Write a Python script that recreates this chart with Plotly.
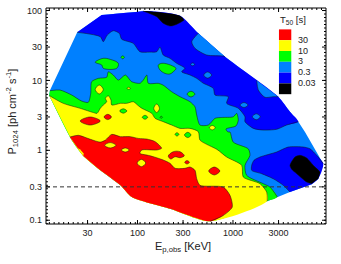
import math
import plotly.graph_objects as go

# ---------- axis ticks ----------
X_TICKS = [30, 100, 300, 1000, 3000]
Y_TICKS = [0.1, 0.3, 1, 3, 10, 30, 100]

# ---------- outer envelope of the sample (E_peak keV, P1024) ----------
HULL_E = [12.1, 23.4, 42.2, 101, 126, 279, 433, 825, 2980, 3952, 4830, 5675, 8820, 7820, 6670,
          3952, 2254, 574, 219, 87, 66.3, 40.8, 27.1, 20.5, 11.9]
HULL_P = [7.2, 48.8, 86.2, 96.1, 98.4, 84.2, 47.2, 21.8, 5.85, 3.57, 2.57, 1.83, 0.643, 0.392, 0.326,
          0.253, 0.186, 0.0964, 0.146, 0.215, 0.316, 0.517, 0.829, 1.39, 6.08]

# ---------- T50 = 0.03-0.3 s, upper region: contour, then envelope back ----------
BLUE_E = [23.4, 40.8, 43.8, 48.3, 55.8, 64.5, 68.3, 90.4, 106, 135, 159, 172, 186, 219, 257, 314, 290,
          355, 417, 485, 622, 648, 893, 859, 1137, 1335, 1335, 1632, 2062, 2868, 3650, 4830]
BLUE_P = [48.8, 42.2, 35.8, 44.6, 51.4, 47.2, 38.9, 33.9, 25.7, 25.4, 25.7, 30, 23.1, 20.7, 17.6, 14.9, 13.3,
          11.95, 10.7, 9.18, 7.7, 6.18, 5.85, 4.7, 3.99, 3.02, 2.57, 2.06, 1.95, 2.0, 2.3, 2.57]
BLUE_CLOSE_E = [3952, 2980, 825, 433, 279, 126, 101, 42.2]
BLUE_CLOSE_P = [3.57, 5.85, 21.8, 47.2, 84.2, 98.4, 96.1, 86.2]

# lower right 0.03-0.3 s region
BLUE2_E = [3952, 3363, 2642, 1998, 1570, 1570, 1659, 1918, 2868, 3794, 5447, 6403, 7522, 8820]
BLUE2_P = [0.253, 0.316, 0.392, 0.463, 0.517, 0.61, 0.72, 0.802, 0.946, 1.115, 1.115, 1.05, 0.848, 0.643]
BLUE2_CLOSE_E = [7820, 6670]
BLUE2_CLOSE_P = [0.392, 0.326]

# ---------- T50 < 0.03 s ----------
BLACK1_E = [114, 159, 186, 219, 247, 290, 307]
BLACK1_P = [98.4, 81.5, 65.6, 60, 62, 69.2, 73.1]
BLACK1_CLOSE_E = [279, 126]
BLACK1_CLOSE_P = [84.2, 98.4]
BLACK2_E = [6670, 5910, 4645, 4118, 3952, 4459, 5031, 5910, 6930, 8147]
BLACK2_P = [0.333, 0.352, 0.463, 0.535, 0.61, 0.802, 0.848, 0.776, 0.61, 0.489]
BLACK2_CLOSE_E = [7820]
BLACK2_CLOSE_P = [0.392]

# ---------- 0.3-3 s patches touching the envelope ----------
LB1_E = [433, 370, 400, 530, 791, 825]
LB1_P = [47.2, 35.8, 28.8, 23.1, 22.3, 21.8]
LB2_E = [1771, 1840, 2163, 2642, 2980]
LB2_P = [9.97, 7.29, 5.73, 5.85, 5.85]

# ---------- T50 = 3-10 s upper contour + envelope back ----------
GREEN_E = [12.1, 15.4, 20.5, 26.0, 30.5, 32.4, 33.1, 38.9, 47.6, 49.5, 55.8, 63, 74.7, 87, 106, 115, 125, 130,
           165, 185, 228, 279, 355, 400, 417, 451, 551, 648, 761, 1007, 1093, 1137, 1075, 845, 886, 931, 1007,
           1446, 1507, 1335, 1391, 2076, 2440, 2910]
GREEN_P = [7.12, 7.29, 6.18, 5.07, 4.86, 6.54, 9.58, 10.7, 11.1, 13.3, 11.95, 10.1, 11.95, 9.58, 9.09, 10.1, 11.95, 9.09,
           9.09, 8.6, 6.89, 5.85, 4.96, 4.2, 3.2, 2.3, 2.3, 2.87, 2.95, 3.02, 3.38, 2.71, 2.23, 2.02, 1.83, 1.83, 1.31,
           1.05, 0.848, 0.61, 0.439, 0.333, 0.298, 0.215]
GREEN_CLOSE_E = [2287, 574, 219, 87, 66.3, 40.8, 27.1, 20.5, 11.9]
GREEN_CLOSE_P = [0.188, 0.0964, 0.146, 0.215, 0.316, 0.517, 0.829, 1.39, 6.08]

GREEN_BLOB1_E = [36.1, 43.8, 51.9, 63, 60.6, 43.8, 42.2, 36.1]
GREEN_BLOB1_P = [18.2, 20.7, 20, 17.6, 14.9, 14.9, 16.6, 18.2]
GREEN_BLOB2_E = [165, 186, 253, 237, 219, 194, 172, 165]
GREEN_BLOB2_P = [16.6, 17.6, 14.9, 13.3, 12.35, 12.6, 14.1, 16.6]

# ---------- T50 = 10-30 s upper contour + envelope back ----------
YELLOW_E = [11.9, 16.7, 25.1, 34.5, 37.7, 40.8, 43.8, 47.6, 46.1, 49.5, 52.8, 53.7, 66.3, 77.1, 90.4, 102, 111, 141,
            153, 186, 228, 279, 355, 433, 451, 530, 680, 859, 1233, 1282, 1918, 2254, 2287]
YELLOW_P = [6.08, 4.7, 3.99, 3.47, 3.38, 3.99, 4.45, 4.96, 5.55, 6.04, 5.24, 4.45, 4.7, 4.7, 4.96, 4.35, 3.99, 3.38,
            2.87, 2.57, 2.3, 2.06, 2.06, 1.85, 1.4, 1.22, 1.03, 0.802, 0.61, 0.415, 0.333, 0.253, 0.188]
YELLOW_CLOSE_E = [574, 219, 87, 66.3, 40.8, 27.1, 20.5]
YELLOW_CLOSE_P = [0.0964, 0.146, 0.215, 0.316, 0.517, 0.829, 1.39]

# ---------- T50 > 30 s upper contour + envelope back ----------
RED_E = [19.6, 24, 32, 40.8, 46.1, 53.7, 66.3, 83.5, 102, 125, 153, 179, 159, 111, 106, 135, 186, 219, 247, 314,
         355, 400, 417, 451, 791, 930, 983, 791, 574]
RED_P = [1.55, 1.64, 1.44, 1.31, 1.4, 1.69, 1.57, 1.57, 1.48, 1.45, 1.33, 1.07, 1.01, 1.01, 0.906, 0.837, 0.727, 0.652,
         0.553, 0.553, 0.577, 0.517, 0.392, 0.316, 0.298, 0.227, 0.154, 0.117, 0.0964]
RED_CLOSE_E = [219, 87, 66.3, 40.8, 27.1]
RED_CLOSE_P = [0.146, 0.215, 0.316, 0.517, 0.829]

RED_BLOB_E = [210, 237, 279, 309, 279, 247, 223, 210]
RED_BLOB_P = [0.829, 0.955, 0.955, 0.837, 0.784, 0.81, 0.751, 0.829]
YELLOW_SLIVER_E = [23.5, 25.1, 27.3, 27.1]
YELLOW_SLIVER_P = [1.08, 1.03, 0.9, 0.829]

# ---------- small closed islands: (E left, E mid, E right), (P low, P high) ----------
ISLES_LIGHTBLUE = [((360, 378, 397), (16.2, 17.8)), ((493, 543, 598), (10.8, 13.2)),
                   ((1184, 1304, 1436), (4.1, 4.83)), ((1593, 1754, 1931), (2.74, 3.33))]
ISLES_BLUE = [((127, 146, 169), (7.2, 8.8))]
ISLES_GREEN_HIGH = [((67, 70, 73), (20.4, 22.5)), ((330, 363, 400), (5.8, 7.0))]
ISLES_YELLOW = [((36.1, 39.8, 43.8), (6.4, 8.6)), ((77.5, 80.9, 84.4), (7.45, 7.97)),
                ((148, 159, 170), (3.46, 4.6)), ((565, 607, 652), (1.96, 2.27))]
ISLES_GREEN_LOW = [((65, 71, 77.5), (3.4, 3.93)), ((112, 120, 128), (2.78, 3.17)),
                   ((172, 177.5, 183), (2.87, 3.07)), ((247, 259, 272), (1.6, 1.79)),
                   ((310, 336, 364), (1.52, 1.81))]
ISLES_RED = [((25.1, 32, 40.8), (2.3, 3.0)), ((44.6, 48.8, 53.4), (2.75, 3.27)),
             ((312, 330, 350), (0.637, 0.713)), ((556, 637, 729), (0.444, 0.577))]
ISLES_YELLOW_LOW = [((45.2, 51.9, 59.5), (1.08, 1.29)), ((67.7, 74.5, 82), (0.946, 1.08)),
                    ((99, 110, 122), (0.584, 0.742))]

# ---------- legend ----------
LEGEND_LABELS = ["30", "10", "3", "0.3", "0.03"]
RED, YELLOW, GREEN, LIGHTBLUE, BLUE, BLACK = "#ff0000", "#ffff00", "#00ff00", "#0080ff", "#0000ff", "#000000"
LEGEND_COLORS = [RED, YELLOW, GREEN, LIGHTBLUE, BLUE, BLACK]
THRESHOLD = 0.3

FONT = "Liberation Sans"
INK = "#222222"
fig = go.Figure()


def region(e, p, close_e, close_p, color):
    """Fill contour + envelope part, then stroke the contour only (smooth contours)."""
    fig.add_trace(go.Scatter(x=e + close_e, y=p + close_p, mode="lines", fill="toself", fillcolor=color,
                             line=dict(width=0, shape="spline", smoothing=0.7, color=color),
                             hoverinfo="skip", showlegend=False))
    fig.add_trace(go.Scatter(x=e, y=p, mode="lines", line=dict(color="#111111", width=0.5, shape="spline", smoothing=0.7),
                             hoverinfo="skip", showlegend=False))


def blob(e, p, color):
    fig.add_trace(go.Scatter(x=e, y=p, mode="lines", fill="toself", fillcolor=color,
                             line=dict(color="#111111", width=0.5, shape="spline"),
                             hoverinfo="skip", showlegend=False))


def isles(items, color):
    for (l, c, r), (lo, hi) in items:
        mid = math.sqrt(lo * hi)
        blob([l, c, r, c, l], [mid, hi, mid, lo, mid], color)


fig.add_trace(go.Scatter(x=HULL_E, y=HULL_P, mode="none", fill="toself", fillcolor=LIGHTBLUE,
                         hoverinfo="skip", showlegend=False))
region(BLUE_E, BLUE_P, BLUE_CLOSE_E, BLUE_CLOSE_P, BLUE)
region(BLUE2_E, BLUE2_P, BLUE2_CLOSE_E, BLUE2_CLOSE_P, BLUE)
region(LB1_E, LB1_P, [], [], LIGHTBLUE)
region(LB2_E, LB2_P, [], [], LIGHTBLUE)
isles(ISLES_LIGHTBLUE, LIGHTBLUE)
isles(ISLES_BLUE, BLUE)
region(BLACK1_E, BLACK1_P, BLACK1_CLOSE_E, BLACK1_CLOSE_P, BLACK)
region(BLACK2_E, BLACK2_P, BLACK2_CLOSE_E, BLACK2_CLOSE_P, BLACK)
region(GREEN_E, GREEN_P, GREEN_CLOSE_E, GREEN_CLOSE_P, GREEN)
blob(GREEN_BLOB1_E, GREEN_BLOB1_P, GREEN)
blob(GREEN_BLOB2_E, GREEN_BLOB2_P, GREEN)
isles(ISLES_GREEN_HIGH, GREEN)
region(YELLOW_E, YELLOW_P, YELLOW_CLOSE_E, YELLOW_CLOSE_P, YELLOW)
isles(ISLES_YELLOW, YELLOW)
isles(ISLES_GREEN_LOW, GREEN)
region(RED_E, RED_P, RED_CLOSE_E, RED_CLOSE_P, RED)
fig.add_trace(go.Scatter(x=YELLOW_SLIVER_E, y=YELLOW_SLIVER_P, mode="none", fill="toself", fillcolor=YELLOW,
                         hoverinfo="skip", showlegend=False))
isles(ISLES_YELLOW_LOW, YELLOW)
isles(ISLES_RED, RED)
blob(RED_BLOB_E, RED_BLOB_P, RED)

X_RANGE = [1.042, 3.974]
Y_RANGE = [-1.054, 2.036]

fig.add_trace(go.Scatter(x=[10 ** X_RANGE[0], 10 ** X_RANGE[1]], y=[THRESHOLD, THRESHOLD], mode="lines",
                         line=dict(color="#333333", width=1, dash="4px,3px"),
                         hoverinfo="skip", showlegend=False))


def minor_ticks(major, lo, hi):
    """Ten evenly log-spaced divisions per major interval, as on the original frame."""
    out = []
    logs = [math.log10(v) for v in major]
    step = (logs[-1] - logs[0]) / ((len(logs) - 1) * 10)
    for k in range(-40, 120):
        v = logs[0] + k * step
        if lo <= v <= hi:
            out.append(10 ** v)
    return out


X_MINOR = minor_ticks(X_TICKS, *X_RANGE)
Y_MINOR = minor_ticks(Y_TICKS, *Y_RANGE)

# frame and tick marks are drawn as shapes on the same axes; labels stay the axes' own
fig.update_xaxes(type="log", range=X_RANGE, tickmode="array", tickvals=X_TICKS, ticktext=[str(v) for v in X_TICKS],
                 showgrid=False, zeroline=False, showline=False, ticks="", ticklen=0, ticklabelstandoff=2,
                 tickfont=dict(family=FONT, size=9, color=INK))
fig.update_yaxes(type="log", range=Y_RANGE, tickmode="array", tickvals=Y_TICKS, ticktext=[str(v) for v in Y_TICKS],
                 showgrid=False, zeroline=False, showline=False, ticks="", ticklen=0, ticklabelstandoff=3,
                 tickfont=dict(family=FONT, size=9, color=INK))

shapes = []
MAJOR_H, MINOR_H = 4 / 216, 2 / 216
MAJOR_W, MINOR_W = 4 / 280, 2 / 280
for vals, size in ((X_TICKS, MAJOR_H), (X_MINOR, MINOR_H)):
    for v in vals:
        shapes.append(dict(type="line", xref="x", yref="paper", x0=v, x1=v, y0=0, y1=size,
                           line=dict(color="#000000", width=1)))
        shapes.append(dict(type="line", xref="x", yref="paper", x0=v, x1=v, y0=1, y1=1 - size,
                           line=dict(color="#000000", width=1)))
for vals, size in ((Y_TICKS, MAJOR_W), (Y_MINOR, MINOR_W)):
    for v in vals:
        shapes.append(dict(type="line", xref="paper", yref="y", y0=v, y1=v, x0=0, x1=size,
                           line=dict(color="#000000", width=1)))
        shapes.append(dict(type="line", xref="paper", yref="y", y0=v, y1=v, x0=1, x1=1 - size,
                           line=dict(color="#000000", width=1)))
shapes.append(dict(type="rect", xref="paper", yref="paper", x0=0, x1=1, y0=0, y1=1,
                   line=dict(color="#000000", width=1), fillcolor="rgba(0,0,0,0)", layer="above"))

# legend blocks and labels
annotations = []
top = 0.901
h = 0.05
for i, col in enumerate(LEGEND_COLORS):
    shapes.append(dict(type="rect", xref="paper", yref="paper", x0=0.832, x1=0.876,
                       y0=top - (i + 1) * h, y1=top - i * h, fillcolor=col, line=dict(width=0), layer="above"))
for i, lab in enumerate(LEGEND_LABELS):
    annotations.append(dict(text=lab, xref="paper", yref="paper", x=0.893, y=top - (i + 1) * h + 0.002,
                            xanchor="left", yanchor="middle", showarrow=False,
                            font=dict(family=FONT, size=9, color=INK)))
annotations.append(dict(text="T<sub>50</sub> [s]", xref="paper", yref="paper", x=0.83, y=0.945,
                        xanchor="left", yanchor="middle", showarrow=False,
                        font=dict(family=FONT, size=9.5, color=INK)))
annotations.append(dict(text="E<sub>p,obs</sub> [KeV]", xref="paper", yref="paper", x=0.49, y=-0.105,
                        xanchor="center", yanchor="middle", showarrow=False,
                        font=dict(family=FONT, size=11, color=INK)))
annotations.append(dict(text="P<sub>1024</sub> [ph cm<sup>-2</sup> s<sup>-1</sup>]", xref="paper", yref="paper",
                        x=-0.122, y=0.52, xanchor="center", yanchor="middle", textangle=-90, showarrow=False,
                        font=dict(family=FONT, size=11, color=INK)))

fig.update_layout(width=341, height=264, margin=dict(l=46, r=15, t=8, b=40, autoexpand=False),
                  paper_bgcolor="white", plot_bgcolor="white", showlegend=False,
                  shapes=shapes, annotations=annotations, font=dict(family=FONT))
fig.write_html("out.html", config=dict(displayModeBar=False),
               post_script="document.body.style.margin='0';document.documentElement.style.overflow='hidden';")
